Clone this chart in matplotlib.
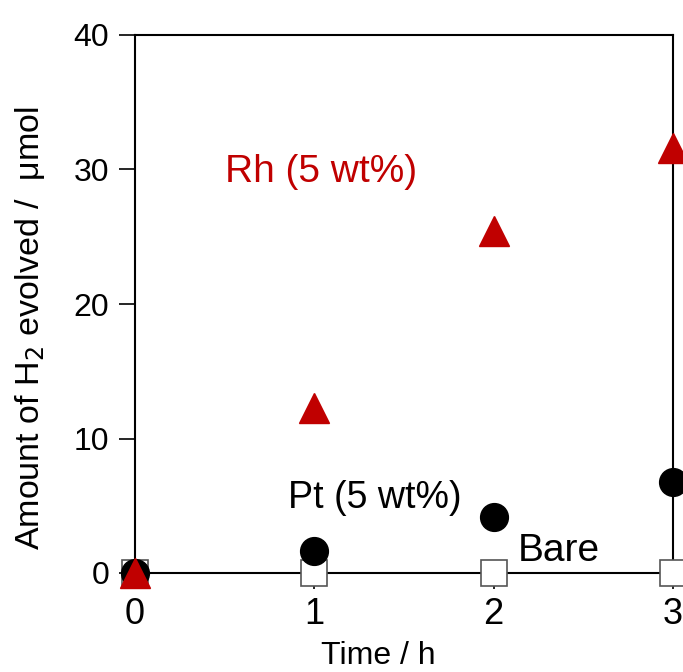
import matplotlib

matplotlib.use("Agg")
import matplotlib.pyplot as plt

plt.rcParams["font.family"] = ["Liberation Sans", "DejaVu Sans"]

time_h = [0, 1, 2, 3]
rh_umol = [0.0, 12.3, 25.4, 31.6]
pt_umol = [0.0, 1.6, 4.2, 6.8]
bare_umol = [0.0, 0.0, 0.0, 0.0]

labels = ["Rh (5 wt%)", "Pt (5 wt%)", "Bare"]
label_pos = [(0.50, 29.8), (0.853, 5.6), (2.136, 1.6)]
label_colors = ["#c00000", "black", "black"]
label_sizes = [28, 27, 28]

fig = plt.figure(figsize=(6.83, 6.72), dpi=100)
ax = fig.add_axes([135 / 683, 1 - 573 / 672, 538 / 683, 538 / 672])

ax.plot(time_h, bare_umol, "s", ms=19, mfc="white", mec="#555555", mew=1.2,
        clip_on=False, zorder=5)
ax.plot(time_h, pt_umol, "o", ms=20, color="black", clip_on=False, zorder=6)
ax.plot(time_h, rh_umol, "^", ms=21, color="#c00000", clip_on=False, zorder=7)

for txt, (tx, ty), c, fs in zip(labels, label_pos, label_colors, label_sizes):
    ax.text(tx, ty, txt, fontsize=fs, color=c, va="center", ha="left")

ax.set_xlim(0, 3)
ax.set_ylim(0, 40)
ax.set_xticks([0, 1, 2, 3])
ax.set_yticks([0, 10, 20, 30, 40])
ax.tick_params(direction="out", length=11.5, width=1.2)
ax.tick_params(axis="x", labelsize=26, pad=6)
ax.tick_params(axis="y", labelsize=23, pad=7)
for s in ax.spines.values():
    s.set_linewidth(1.5)
ax.set_xlabel("Time / h", fontsize=23, va="center")
ax.xaxis.set_label_coords(0.452, -0.155)
ax.set_ylabel("Amount of H$_2$ evolved /  μmol", fontsize=24.5, va="center")
ax.yaxis.set_label_coords(-0.195, 0.455)

fig.savefig("out.png", dpi=100)
